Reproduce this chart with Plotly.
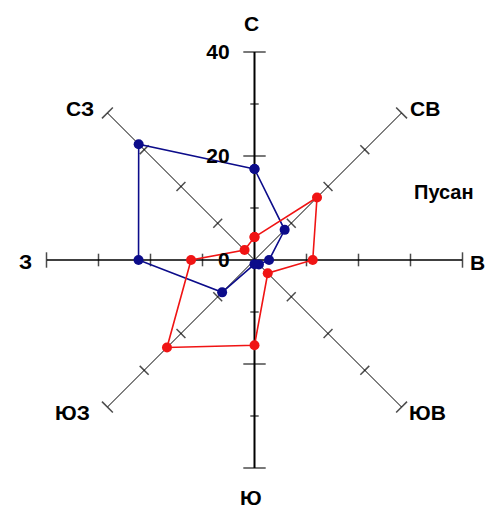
import plotly.graph_objects as go

# wind rose, Пусан
directions = ["С", "СВ", "В", "ЮВ", "Ю", "ЮЗ", "З", "СЗ"]
bearings = [0, 45, 90, 135, 180, 225, 270, 315]
blue_vals = [17.5, 8.2, 2.8, 1.2, 0.8, 8.8, 22.3, 31.5]
red_vals = [4.4, 17.0, 11.2, 3.6, 16.4, 23.8, 12.2, 2.7]
tick_vals = [10, 20, 30, 40]
label_vals = [0, 20, 40]
title_text = "Пусан"

BLUE = "#0c0c8a"
RED = "#f01414"
FONT = "Liberation Sans, Arial, sans-serif"

W, H = 490, 512
cx, cy, rad = 254.5, 260, 208

# where the direction names sit (page px)
label_pos = [(252, 23), (425, 108), (477, 262), (427, 412),
             (251, 497), (72, 412), (25, 261), (80, 108)]

fig = go.Figure()

# spokes
for d, b in zip(directions, bearings):
    if b in (0, 180):
        w = 2
    elif b in (90, 270):
        w = 1.6
    else:
        w = 1
    fig.add_trace(go.Scatterpolar(
        r=[0, 40], theta=[d, d], mode="lines",
        line=dict(color="black", width=w),
        hoverinfo="skip", showlegend=False))

# tick marks along every spoke
for d, b in zip(directions, bearings):
    if b in (0, 180):
        sizes = [6, 16, 6, 16]
    else:
        sizes = [9, 9, 9, 11]
    fig.add_trace(go.Scatterpolar(
        r=tick_vals, theta=[d] * len(tick_vals), mode="markers",
        marker=dict(symbol="line-ew", size=sizes, angle=b,
                    line=dict(color="black", width=1.5)),
        hoverinfo="skip", showlegend=False))

# series
for vals, col in [(blue_vals, BLUE), (red_vals, RED)]:
    fig.add_trace(go.Scatterpolar(
        r=vals + vals[:1], theta=directions + directions[:1],
        mode="lines+markers",
        line=dict(color=col, width=1.6),
        marker=dict(color=col, size=10, symbol="circle"),
        showlegend=False))

bold = dict(family=FONT, size=21, color="black", weight="bold")

annos = []
for d, (px, py) in zip(directions, label_pos):
    annos.append(dict(text=d, x=px / W, y=(H - py) / H,
                      xref="paper", yref="paper", showarrow=False,
                      xanchor="center", yanchor="middle", font=bold))
annos.append(dict(text=title_text, x=444 / W, y=(H - 192) / H,
                  xref="paper", yref="paper", showarrow=False,
                  xanchor="center", yanchor="middle",
                  font=dict(family=FONT, size=20, color="black", weight="bold")))

fig.update_layout(
    width=W, height=H,
    margin=dict(l=0, r=0, t=0, b=0),
    paper_bgcolor="white",
    showlegend=False,
    polar=dict(
        domain=dict(x=[(cx - rad) / W, (cx + rad) / W],
                    y=[(H - cy - rad) / H, (H - cy + rad) / H]),
        bgcolor="white",
        radialaxis=dict(
            range=[0, 40], angle=90, side="counterclockwise",
            tickvals=label_vals, tickangle=90,
            showline=False, showgrid=False,
            ticks="outside", ticklen=17, tickcolor="rgba(0,0,0,0)",
            tickfont=bold),
        angularaxis=dict(
            type="category", categoryarray=directions,
            direction="clockwise", rotation=90,
            showline=False, showgrid=False, ticks="",
            showticklabels=False),
    ),
    annotations=annos,
)

# drop the default body margin so the figure fills the window exactly
fig.write_html("out.html", config={"displayModeBar": False},
               post_script="document.body.style.margin='0';")
